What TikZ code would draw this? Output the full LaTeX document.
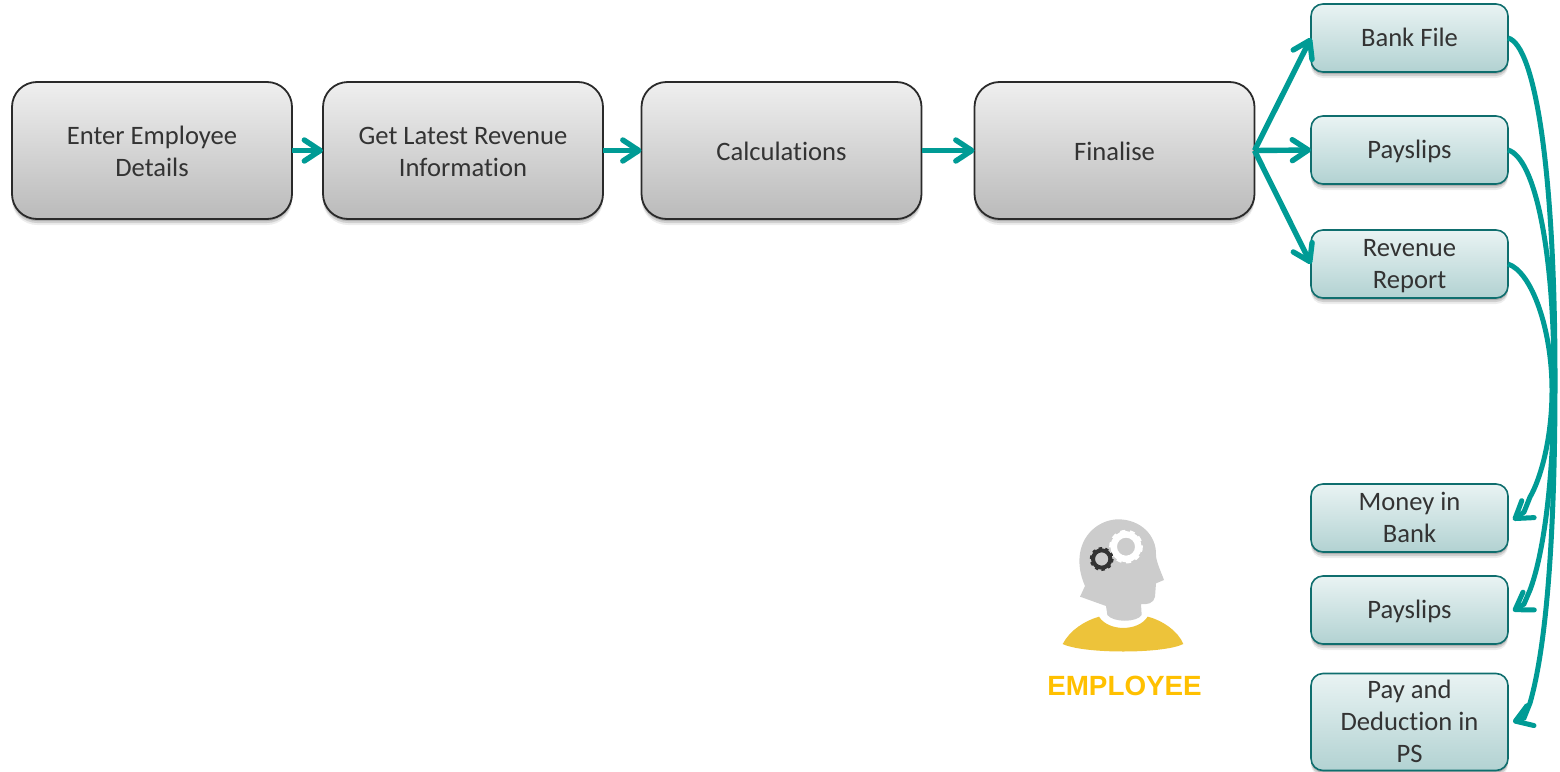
\documentclass[tikz,border=0pt]{standalone}
\usepackage{fontspec}
\setmainfont{Carlito}[Ligatures=NoCommon]
\newfontfamily\empfont{Liberation Sans}
\usetikzlibrary{arrows.meta,shadows}
\newcommand\bigtop{\rule{0pt}{24pt}}
\newcommand\bigbot{\rule[-5pt]{0pt}{5pt}}
\newcommand\smalltop{\rule{0pt}{23pt}}
\newcommand\smallbot{\rule[-5.6pt]{0pt}{5.6pt}}
\definecolor{teal1}{HTML}{009B95}
\definecolor{tborder}{HTML}{0F6E6E}
\definecolor{ttop}{HTML}{E9F3F3}
\definecolor{tbot}{HTML}{B2D2D2}
\definecolor{gtop}{HTML}{EFEFEF}
\definecolor{gbot}{HTML}{BABABA}
\definecolor{gborder}{HTML}{2A2A2A}
\definecolor{txt}{HTML}{333333}
\definecolor{shirt}{HTML}{EDC33A}
\definecolor{headc}{HTML}{CCCCCC}
\definecolor{emp}{HTML}{FFC000}
\tikzset{
  softshadow/.style={
    drop shadow={shadow xshift=0pt,shadow yshift=-2pt,opacity=.16,fill=black},
    drop shadow={shadow xshift=0pt,shadow yshift=-4pt,opacity=.12,fill=black},
    drop shadow={shadow xshift=0pt,shadow yshift=-6pt,opacity=.07,fill=black}},
  bigbox/.style={rectangle,rounded corners=25pt,draw=gborder,line width=1.8pt,top color=gtop,bottom color=gbot,
    minimum width=280pt,minimum height=137pt,outer sep=0pt,align=center,text=txt,softshadow,
    font=\fontsize{26.6}{32}\selectfont},
  smallbox/.style={rectangle,rounded corners=12pt,draw=tborder,line width=1.6pt,top color=ttop,bottom color=tbot,
    minimum width=197pt,minimum height=68pt,outer sep=0pt,align=center,text=txt,softshadow,inner sep=0pt,
    font=\fontsize{26.6}{32}\selectfont},
  conn/.style={draw=teal1,line width=5.4pt,-{Straight Barb[length=16pt,width=21pt,round]}},
  curveconn/.style={draw=teal1,line width=5pt,-{Straight Barb[length=16pt,width=21pt,round]}},
}
\begin{document}
\begin{tikzpicture}[x=1pt,y=-1pt]
\useasboundingbox (0,0) rectangle (1560,771);
\node[bigbox] (a) at (152,150.5) {\bigtop Enter Employee\\Details\bigbot};
\node[bigbox] (b) at (463,150.5) {\bigtop Get Latest Revenue\\Information\bigbot};
\node[bigbox] (c) at (781.5,150.5) {\bigtop Calculations\bigbot};
\node[bigbox] (d) at (1114.5,150.5) {\bigtop Finalise\bigbot};
\node[smallbox] (s1) at (1409.5,38) {\smalltop Bank File\smallbot};
\node[smallbox] (s2) at (1409.5,150) {\smalltop Payslips\smallbot};
\node[smallbox] (s3) at (1409.5,264) {\smalltop Revenue\\Report\smallbot};
\node[smallbox] (m1) at (1409.5,518) {\smalltop Money in\\Bank\smallbot};
\node[smallbox] (m2) at (1409.5,610) {\smalltop Payslips\smallbot};
\node[smallbox,minimum height=97pt] (m3) at (1409.5,722) {\smalltop Pay and\\Deduction in\\PS\smallbot};
\draw[conn] (a.east) -- (b.west);
\draw[conn] (b.east) -- (c.west);
\draw[conn] (c.east) -- (d.west);
\draw[conn] (d.east) -- (s1.west);
\draw[conn] (d.east) -- (s2.west);
\draw[conn] (d.east) -- (s3.west);
\coordinate (p1) at (1555,380);
\coordinate (p2) at (1554,380);
\coordinate (p3) at (1552,390);
\draw[curveconn] (s1.east) .. controls (1535,45) and (1555,170) .. (p1)
  .. controls (1555,520) and (1548,640) .. (1530,703)
  -- (1524,718) -- ([xshift=5pt]m3.east);
\draw[curveconn] (s2.east) .. controls (1535,158) and (1554,250) .. (p2)
  .. controls (1554,470) and (1545,550) .. (1530,590)
  -- (1524,604) -- ([xshift=5pt,yshift=-1pt]m2.east);
\draw[curveconn] (s3.east) .. controls (1532,272) and (1552,330) .. (p3)
  .. controls (1552,440) and (1540,480) .. (1530,497)
  -- (1524,512) -- ([xshift=5pt,yshift=-2pt]m1.east);
\begin{scope}[shift={(1030,500)},x=.33333pt,y=-.33333pt]
  \fill[headc] (228,318) -- (150,290) -- (165,258)
    .. controls (150,225) and (145,190) .. (150,160)
    .. controls (160,95) and (215,58) .. (265,58)
    .. controls (330,58) and (380,105) .. (378,165)
    .. controls (378,185) and (395,220) .. (402,240)
    -- (378,250) -- (375,290)
    .. controls (372,310) and (350,315) .. (333,312)
    -- (335,345) .. controls (320,368) and (250,368) .. (232,345) -- cycle;
  \fill[shirt] (98,432) .. controls (120,390) and (165,362) .. (207,350)
    .. controls (235,395) and (325,395) .. (353,350)
    .. controls (400,362) and (445,395) .. (460,432)
    .. controls (400,462) and (160,462) .. (98,432) -- cycle;
  \draw[white,line width=6.5pt] (288,140) circle[radius=37];
  \draw[white,line width=3pt,dash pattern=on 5pt off 4.5pt] (288,140) circle[radius=46];
  \draw[black!80,line width=4pt] (215,177) circle[radius=26];
  \draw[black!80,line width=2pt,dash pattern=on 3.5pt off 3.4pt] (215,177) circle[radius=33];
\end{scope}
\node[font=\empfont\bfseries\fontsize{27.8}{30}\selectfont,text=emp,inner sep=0pt] (e) at (1124.5,686) {EMPLOYEE};
\end{tikzpicture}
\end{document}
